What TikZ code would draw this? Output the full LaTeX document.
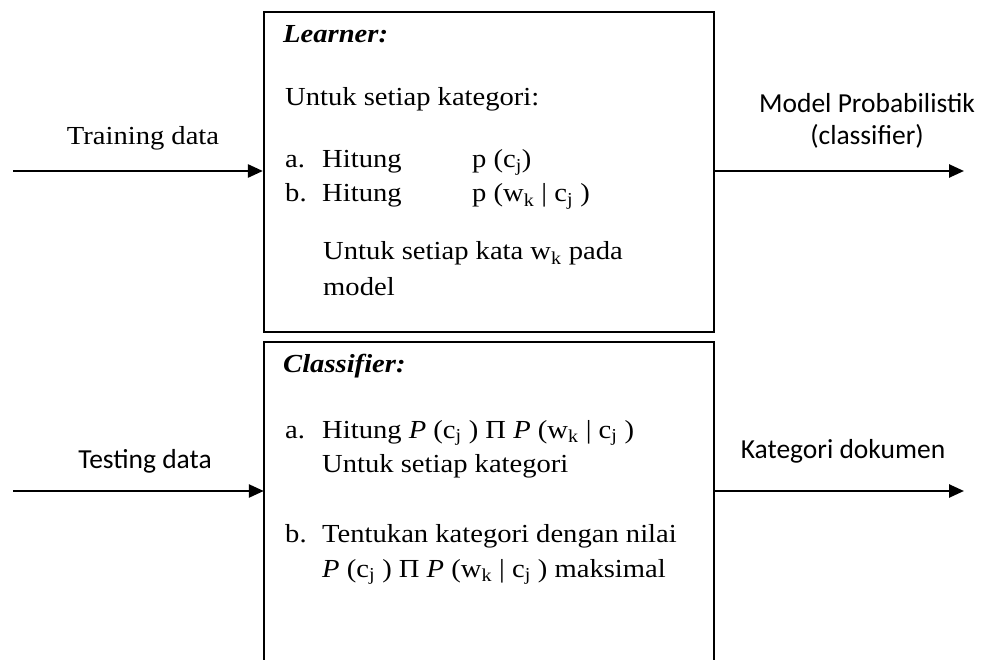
\documentclass[tikz,border=0pt]{standalone}
\usepackage{fontspec}
\setmainfont{Liberation Serif}[FakeStretch=1.1]
\newfontfamily\labelsans{Carlito}
\usetikzlibrary{arrows.meta}
\tikzset{
  txt/.style={anchor=base west, inner sep=0pt, font=\fontsize{26}{30}\selectfont},
  lbl/.style={anchor=base, inner sep=0pt, font=\labelsans\fontsize{27.5}{32}\selectfont},
  slbl/.style={anchor=base, inner sep=0pt, font=\fontsize{26}{30}\selectfont},
  boxline/.style={draw=black, line width=2.2pt},
  flow/.style={draw=black, line width=2.5pt, -{Triangle[length=15pt,width=13pt]}},
}
\begin{document}
\begin{tikzpicture}[x=1pt,y=-1pt]
\useasboundingbox[fill=white] (0,0) rectangle (985,660);
% boxes
\node[boxline, minimum width=450pt, minimum height=320pt, inner sep=0pt] (learner) at (489,172) {};
\node[minimum width=450pt, minimum height=298pt, inner sep=0pt] (classifier) at (489,491) {};
\draw[boxline] ([yshift=-22pt]classifier.south west) -- (classifier.north west) -- (classifier.north east) -- ([yshift=-22pt]classifier.south east);
% connectors
\coordinate (in1) at (13,171);
\coordinate (out1) at (964,171);
\coordinate (in2) at (13,491);
\coordinate (out2) at (964,491);
\draw[flow] (in1) -- (learner.west |- in1);
\draw[flow] (learner.east |- out1) -- (out1);
\draw[flow] (in2) -- (classifier.west);
\draw[flow] (classifier.east) -- (out2);
% outside labels
\node[slbl] (ltrain) at (143,145) {Training data};
\node[lbl] (ltest) at (145,468) {Testing data};
\node[lbl] (lmodel) at (867,113) {Model Probabilistik};
\node[lbl] (lclass) at (867,145) {(classifier)};
\node[lbl] (lkat) at (843,458) {Kategori dokumen};
% learner box text
\node[txt] (t1) at (283,43) {\bfseries\itshape Learner:};
\node[txt] (t2) at (285,106) {Untuk setiap kategori:};
\node[txt] (t3a) at (285,168) {a.};
\node[txt] (t3b) at (322,168) {Hitung};
\node[txt] (t3c) at (472,168) {p (c\textsubscript{j})};
\node[txt] (t4a) at (285,202) {b.};
\node[txt] (t4b) at (322,202) {Hitung};
\node[txt] (t4c) at (472,202) {p (w\textsubscript{k} | c\textsubscript{j} )};
\node[txt] (t5) at (323,260) {Untuk setiap kata w\textsubscript{k} pada};
\node[txt] (t6) at (323,295) {model};
% classifier box text
\node[txt] (c1) at (283,372) {\bfseries\itshape Classifier:};
\node[txt] (c2a) at (285,438) {a.};
\node[txt] (c2b) at (322,438) {Hitung \textit{P} (c\textsubscript{j} ) Π \textit{P} (w\textsubscript{k} | c\textsubscript{j} )};
\node[txt] (c3) at (322,472) {Untuk setiap kategori};
\node[txt] (c4a) at (285,542) {b.};
\node[txt] (c4b) at (322,542) {Tentukan kategori dengan nilai};
\node[txt] (c5) at (322,577) {\textit{P} (c\textsubscript{j} ) Π \textit{P} (w\textsubscript{k} | c\textsubscript{j} ) maksimal};
\end{tikzpicture}
\end{document}
